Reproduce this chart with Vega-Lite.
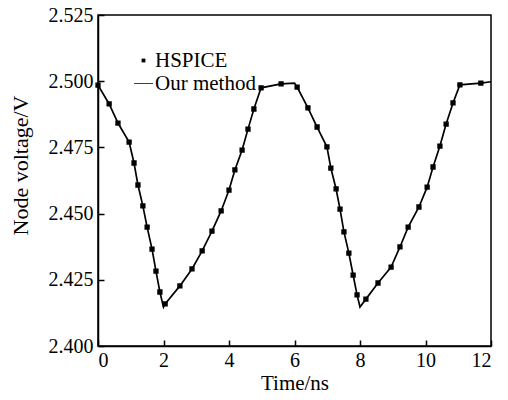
{
  "$schema": "https://vega.github.io/schema/vega-lite/v6.json",
  "autosize": {"type": "none"},
  "width": 393,
  "height": 331,
  "padding": {"left": 98, "top": 15, "right": 17, "bottom": 54},
  "background": "white",
  "config": {
    "font": "Liberation Serif",
    "view": {"stroke": "black", "strokeWidth": 1.5},
    "axis": {
      "grid": false,
      "domainColor": "black",
      "domainWidth": 1.5,
      "tickColor": "black",
      "tickWidth": 1.5,
      "tickSize": -6,
      "labelColor": "black",
      "labelFont": "Liberation Serif",
      "labelFontSize": 20,
      "titleColor": "black",
      "titleFont": "Liberation Serif",
      "titleFontSize": 21,
      "titleFontWeight": "normal"
    },
    "legend": {
      "labelFont": "Liberation Serif",
      "labelFontSize": 21,
      "labelColor": "black",
      "labelOffset": 1,
      "rowPadding": 1
    }
  },
  "data": {
    "values": [
      {"t": 0, "v": 2.4985, "m": 1},
      {"t": 0.34, "v": 2.4914, "m": 1},
      {"t": 0.61, "v": 2.4842, "m": 1},
      {"t": 0.95, "v": 2.4770, "m": 1},
      {"t": 1.10, "v": 2.4691, "m": 1},
      {"t": 1.22, "v": 2.4608, "m": 1},
      {"t": 1.37, "v": 2.4529, "m": 1},
      {"t": 1.50, "v": 2.4449, "m": 1},
      {"t": 1.65, "v": 2.4366, "m": 1},
      {"t": 1.77, "v": 2.4283, "m": 1},
      {"t": 1.89, "v": 2.4204, "m": 1},
      {"t": 2.00, "v": 2.4147, "m": 0},
      {"t": 2.05, "v": 2.4159, "m": 1},
      {"t": 2.50, "v": 2.4227, "m": 1},
      {"t": 2.87, "v": 2.4291, "m": 1},
      {"t": 3.18, "v": 2.4359, "m": 1},
      {"t": 3.48, "v": 2.4434, "m": 1},
      {"t": 3.76, "v": 2.4510, "m": 1},
      {"t": 4.00, "v": 2.4589, "m": 1},
      {"t": 4.18, "v": 2.4665, "m": 1},
      {"t": 4.40, "v": 2.4740, "m": 1},
      {"t": 4.58, "v": 2.4819, "m": 1},
      {"t": 4.76, "v": 2.4895, "m": 1},
      {"t": 4.98, "v": 2.4975, "m": 1},
      {"t": 5.59, "v": 2.4990, "m": 1},
      {"t": 6.00, "v": 2.4993, "m": 0},
      {"t": 6.08, "v": 2.4978, "m": 1},
      {"t": 6.41, "v": 2.4899, "m": 1},
      {"t": 6.69, "v": 2.4827, "m": 1},
      {"t": 6.99, "v": 2.4752, "m": 1},
      {"t": 7.11, "v": 2.4672, "m": 1},
      {"t": 7.27, "v": 2.4593, "m": 1},
      {"t": 7.39, "v": 2.4517, "m": 1},
      {"t": 7.51, "v": 2.4431, "m": 1},
      {"t": 7.66, "v": 2.4351, "m": 1},
      {"t": 7.79, "v": 2.4268, "m": 1},
      {"t": 7.91, "v": 2.4193, "m": 1},
      {"t": 8.00, "v": 2.4147, "m": 0},
      {"t": 8.18, "v": 2.4177, "m": 1},
      {"t": 8.55, "v": 2.4238, "m": 1},
      {"t": 8.95, "v": 2.4298, "m": 1},
      {"t": 9.22, "v": 2.4374, "m": 1},
      {"t": 9.47, "v": 2.4449, "m": 1},
      {"t": 9.80, "v": 2.4525, "m": 1},
      {"t": 10.05, "v": 2.4600, "m": 1},
      {"t": 10.23, "v": 2.4676, "m": 1},
      {"t": 10.44, "v": 2.4755, "m": 1},
      {"t": 10.63, "v": 2.4838, "m": 1},
      {"t": 10.84, "v": 2.4918, "m": 1},
      {"t": 11.05, "v": 2.4986, "m": 1},
      {"t": 11.69, "v": 2.4993, "m": 1},
      {"t": 12.00, "v": 2.4998, "m": 0}
    ]
  },
  "encoding": {
    "x": {
      "field": "t", "type": "quantitative",
      "scale": {"domain": [0, 12], "nice": false},
      "axis": {"values": [0, 2, 4, 6, 8, 10, 12], "title": "Time/ns", "labelPadding": 10, "titlePadding": 2}
    },
    "y": {
      "field": "v", "type": "quantitative",
      "scale": {"domain": [2.4, 2.525], "nice": false, "zero": false},
      "axis": {"values": [2.4, 2.425, 2.45, 2.475, 2.5, 2.525], "format": ".3f", "title": "Node voltage/V", "titleFontSize": 22, "titleY": 150, "labelPadding": 11, "titlePadding": 16}
    }
  },
  "layer": [
    {
      "mark": {"type": "line", "color": "black", "strokeWidth": 1.7}
    },
    {
      "transform": [{"filter": "datum.m == 1"}],
      "mark": {"type": "point", "filled": true, "fill": "black", "stroke": "black", "strokeWidth": 1.5, "opacity": 1, "size": 361},
      "encoding": {
        "shape": {
          "datum": "HSPICE",
          "scale": {"domain": ["HSPICE", "Our method"], "range": ["M-0.2,-0.2H0.2V0.2H-0.2Z", "M-1,-0.04H1V0.04H-1Z"]},
          "legend": {
            "title": null, "orient": "none", "legendX": 35, "legendY": 35, "symbolSize": 361,
            "symbolStrokeColor": "black", "symbolFillColor": "black", "symbolStrokeWidth": 1.2,
            "encode": {"symbols": {"update": {"stroke": {"value": "black"}, "strokeWidth": {"value": 1.2}, "fill": {"value": "black"}, "opacity": {"value": 1}}}}
          }
        }
      }
    }
  ]
}
